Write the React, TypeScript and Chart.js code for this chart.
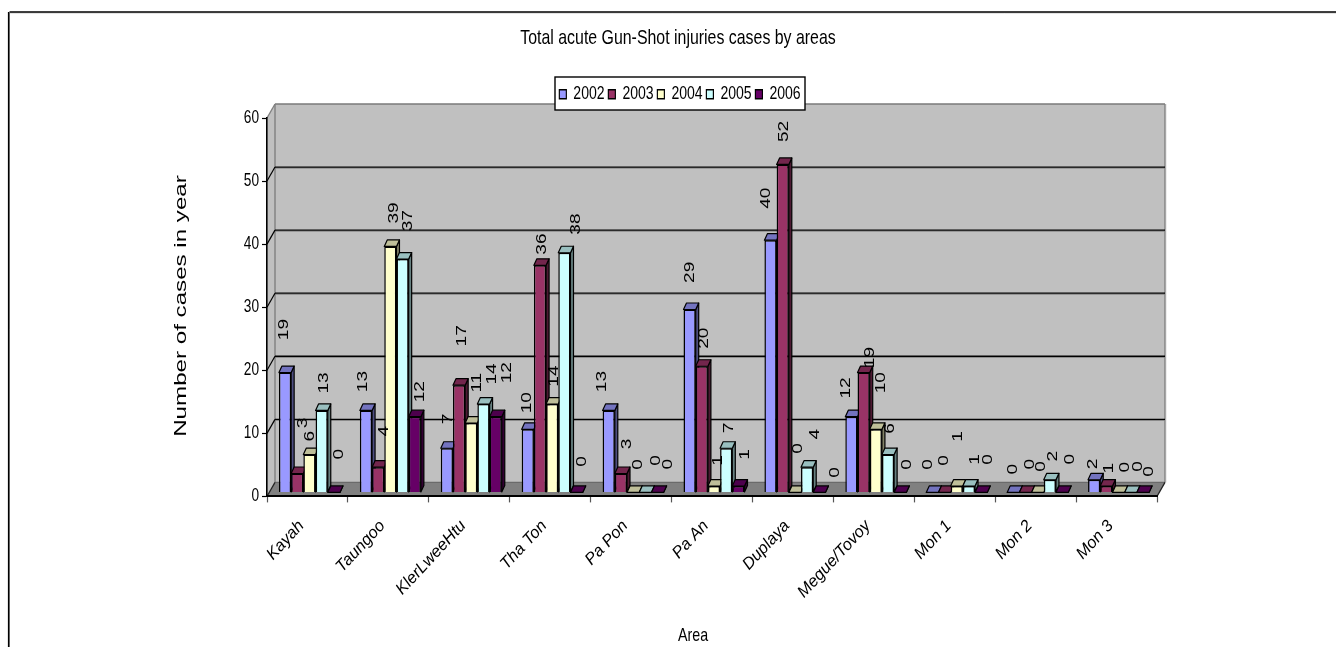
import React, { useEffect, useRef } from "react";
import { Chart, registerables } from "chart.js";

Chart.register(...registerables);

const areas = ["Kayah", "Taungoo", "KlerLweeHtu", "Tha Ton", "Pa Pon", "Pa An", "Duplaya", "Megue/Tovoy", "Mon 1", "Mon 2", "Mon 3"];
const cases2002 = [19, 13, 7, 10, 13, 29, 40, 12, 0, 0, 2];
const cases2003 = [3, 4, 17, 36, 3, 20, 52, 19, 0, 0, 1];
const cases2004 = [6, 39, 11, 14, 0, 1, 0, 10, 1, 0, 0];
const cases2005 = [13, 37, 14, 38, 0, 7, 4, 6, 1, 2, 0];
const cases2006 = [0, 12, 12, 0, 0, 1, 0, 0, 0, 0, 0];
const years = ["2002", "2003", "2004", "2005", "2006"];
const series = [cases2002, cases2003, cases2004, cases2005, cases2006];
const colours = ["#9999FF", "#993366", "#FFFFCC", "#CCFFFF", "#660066"];
const yTicks = { min: 0, max: 60, step: 10 };

// Hand placement of the rotated value labels, per year then per area.
const labelDx = [
  [-1.4, -3.6, 0.8, -1.1, -7.3, 0, -4.8, -5.7, -4.9, -0.8, -1.4],
  [5, 5.2, 2.6, 1.7, 5.8, 2, 1, 6, -0.8, 4.3, 2.4],
  [0.2, 3, 5, 1.5, 4.6, 3.4, 2.8, 4.9, 1, 3.1, 6.2],
  [2, 5, 7.9, 11.3, 10.4, 2.5, 7.6, 1.7, 5.8, 2.9, 6.7],
  [4.8, 4.9, 11, 4.8, 10.2, 6.3, 15.4, 6.5, 6.6, 7.7, 5.8],
];
const labelDy = [
  [-43, -28.8, -29.4, -26.6, -28.8, -37.2, -42, -28.8, -28, -23.3, -15.8],
  [-50.5, -35.9, -49.4, -21.3, -29.5, -28, -33, -15, -32, -28.3, -18],
  [-18.4, -33.5, -40.3, -28, -28, -25.7, -44, -46.6, -49.7, -26, -25.3],
  [-27.5, -38.3, -30.2, -28.7, -32, -20.4, -33, -26, -26.7, -23.5, -26],
  [-38.3, -25, -44, -31, -28.3, -31.7, -20, -28, -33, -33.3, -21],
];

const PLOT = { left: 267, right: 1157, top: 118, bottom: 495 };
const WALL_SHIFT = { x: 8, y: -14 };
const BAR_SHIFT = { x: 2, y: -4 };
const BAR_DEPTH = { x: 3, y: -6.5 };
const SANS = '"Liberation Sans", Arial, sans-serif';

function shade(hex: string, k: number) {
  const n = parseInt(hex.slice(1), 16);
  const c = [(n >> 16) & 255, (n >> 8) & 255, n & 255].map((v) => Math.round(v * k));
  return `rgb(${c[0]},${c[1]},${c[2]})`;
}

function poly(ctx: CanvasRenderingContext2D, pts: number[][], fill: string, stroke?: string, width = 1) {
  ctx.beginPath();
  pts.forEach((p, i) => (i ? ctx.lineTo(p[0], p[1]) : ctx.moveTo(p[0], p[1])));
  ctx.closePath();
  ctx.fillStyle = fill;
  ctx.fill();
  if (stroke) {
    ctx.strokeStyle = stroke;
    ctx.lineWidth = width;
    ctx.lineJoin = "round";
    ctx.stroke();
  }
}

function line(ctx: CanvasRenderingContext2D, x1: number, y1: number, x2: number, y2: number, colour: string, width: number) {
  ctx.beginPath();
  ctx.moveTo(x1, y1);
  ctx.lineTo(x2, y2);
  ctx.strokeStyle = colour;
  ctx.lineWidth = width;
  ctx.stroke();
}

// Squeezes whatever a chart element draws horizontally about a fixed x.
function condense(chart: any, target: any, method: string, anchor: number, k: number) {
  if (target.__condensed) return;
  target.__condensed = true;
  const original = target[method];
  target[method] = function (...args: any[]) {
    const { ctx } = chart;
    ctx.save();
    ctx.translate(anchor, 0);
    ctx.scale(k, 1);
    ctx.translate(-anchor, 0);
    original.apply(target, args);
    ctx.restore();
  };
}

// Outer frame, back wall, side wall, floor, wall grid lines and the legend panel.
const backdrop = {
  id: "backdrop",
  afterLayout(chart: any) {
    chart.titleBlock.left = 20;
    chart.titleBlock.right = 1336;
    chart.legend.left = 490;
    chart.legend.right = 870;
    chart.legend.top = 80.4;
    chart.legend.bottom = 112;
    condense(chart, chart.titleBlock, "draw", 678, 0.757);
    condense(chart, chart.legend, "draw", 680, 0.78);
    condense(chart, chart.scales.y, "drawLabels", 259, 0.76);
  },
  beforeDraw(chart: any) {
    const { ctx, chartArea: a, scales } = chart;
    const y = scales.y;
    const wx = WALL_SHIFT.x;
    const wy = WALL_SHIFT.y;
    ctx.save();
    line(ctx, 9.5, 13, 1336, 13, "#C8C8C8", 1);
    line(ctx, 9.5, 12, 1336, 12, "#000", 1.6);
    line(ctx, 9.5, 12, 9.5, 647, "#C8C8C8", 1);
    line(ctx, 8.7, 12, 8.7, 647, "#000", 1.6);

    const top = y.getPixelForValue(yTicks.max);
    const zero = y.getPixelForValue(0);
    poly(ctx, [[a.left, top], [a.left + wx, top + wy], [a.left + wx, zero + wy], [a.left, zero]], "#C0C0C0");
    poly(ctx, [[a.left + wx, top + wy], [a.right + wx, top + wy], [a.right + wx, zero + wy], [a.left + wx, zero + wy]], "#C0C0C0");
    poly(ctx, [[a.left, zero], [a.right, zero], [a.right + wx, zero + wy], [a.left + wx, zero + wy]], "#808080");
    line(ctx, a.right + wx + 1.5, top + wy, a.right + wx + 1.5, zero + wy, "#EDEDED", 1);
    line(ctx, a.left + wx, top + wy, a.right + wx, top + wy, "#7A7A7A", 1.6);
    line(ctx, a.left + wx, top + wy, a.left + wx, zero + wy, "#808080", 1.4);
    line(ctx, a.right + wx, top + wy, a.right + wx, zero + wy, "#808080", 1.4);
    line(ctx, a.left, top, a.left + wx, top + wy, "#808080", 1.4);
    line(ctx, a.left + wx, zero + wy, a.right + wx, zero + wy, "#6A6A6A", 1.4);
    line(ctx, a.right, zero, a.right + wx, zero + wy, "#222", 1.2);

    for (let v = yTicks.min + yTicks.step; v < yTicks.max; v += yTicks.step) {
      const p = y.getPixelForValue(v);
      line(ctx, a.left + wx, p + wy + 1, a.right + wx, p + wy + 1, "#808080", 1);
      line(ctx, a.left + wx, p + wy, a.right + wx, p + wy, "#000", 1.3);
      line(ctx, a.left, p, a.left + wx, p + wy, "#000", 1.2);
    }
    line(ctx, a.left, zero, a.left + wx, zero + wy, "#222", 1.2);

    ctx.fillStyle = "#fff";
    ctx.fillRect(555, 77, 250, 33);
    ctx.strokeStyle = "#000";
    ctx.lineWidth = 1.4;
    ctx.strokeRect(555, 77, 250, 33);
    ctx.restore();
  },
};

// Adds the side and top faces behind each bar; the library then paints the front faces.
const barDepth = {
  id: "barDepth",
  beforeDatasetsDraw(chart: any) {
    const { ctx } = chart;
    ctx.save();
    ctx.translate(BAR_SHIFT.x, BAR_SHIFT.y);
    const dx = BAR_DEPTH.x;
    const dy = BAR_DEPTH.y;
    series.forEach((_, d) => {
      const colour = colours[d];
      chart.getDatasetMeta(d).data.forEach((bar: any) => {
        const l = bar.x - bar.width / 2;
        const r = bar.x + bar.width / 2;
        const t = bar.y;
        const b = bar.base;
        poly(ctx, [[r, t], [r + dx, t + dy], [r + dx, b + dy], [r, b]], shade(colour, 0.5), "#000", 1.2);
        poly(ctx, [[l, t], [l + dx, t + dy], [r + dx, t + dy], [r, t]], shade(colour, 0.75), "#000", 1.2);
      });
    });
  },
  afterDatasetsDraw(chart: any) {
    chart.ctx.restore();
  },
};

// Stretched text for the rotated value labels and axis captions.
const annotations = {
  id: "annotations",
  afterDraw(chart: any) {
    const { ctx } = chart;
    ctx.save();
    ctx.fillStyle = "#000";
    ctx.textAlign = "center";
    ctx.textBaseline = "middle";
    series.forEach((values, d) => {
      chart.getDatasetMeta(d).data.forEach((bar: any, i: number) => {
        ctx.save();
        ctx.translate(bar.x + BAR_SHIFT.x + labelDx[d][i], bar.y + BAR_SHIFT.y + labelDy[d][i]);
        ctx.rotate(-Math.PI / 2);
        ctx.scale(1.23, 1);
        ctx.font = `15.5px ${SANS}`;
        ctx.fillText(String(values[i]), 0, 0);
        ctx.restore();
      });
    });
    ctx.save();
    ctx.translate(181.5, 306);
    ctx.rotate(-Math.PI / 2);
    ctx.scale(1.42, 1);
    ctx.font = `17px ${SANS}`;
    ctx.fillText("Number of cases in year", 0, 0);
    ctx.restore();
    ctx.save();
    ctx.translate(693, 636);
    ctx.scale(0.75, 1);
    ctx.font = `19px ${SANS}`;
    ctx.fillText("Area", 0, 0);
    ctx.restore();
    ctx.restore();
  },
};

export default function App() {
  const ref = useRef<HTMLCanvasElement>(null);

  useEffect(() => {
    const chart = new Chart(ref.current as HTMLCanvasElement, {
      type: "bar",
      data: {
        labels: areas,
        datasets: years.map((year, d) => ({
          label: year,
          data: series[d],
          backgroundColor: colours[d],
          borderColor: "#000",
          borderWidth: 1.5,
          categoryPercentage: 0.754,
          barPercentage: 1,
        })),
      },
      plugins: [backdrop, barDepth, annotations],
      options: {
        responsive: false,
        animation: false,
        layout: { padding: { left: 0, top: 0, bottom: 0, right: 1336 - PLOT.right } },
        plugins: {
          tooltip: { enabled: false },
          title: {
            display: true,
            text: "Total acute Gun-Shot injuries cases by areas",
            color: "#000",
            font: { family: SANS, size: 21, weight: "normal" },
            padding: { top: 26, bottom: 34 },
          },
          legend: {
            display: true,
            position: "top",
            labels: {
              color: "#000",
              font: { family: SANS, size: 18 },
              boxWidth: 9,
              boxHeight: 9,
              padding: 4.8,
            },
          },
        },
        scales: {
          x: {
            offset: true,
            afterFit: (s: any) => {
              s.height = 150.6;
            },
            grid: { drawOnChartArea: false, offset: true, tickLength: 6, tickColor: "#555", tickWidth: 1.2 },
            border: { color: "#000", width: 2 },
            ticks: {
              color: "#000",
              autoSkip: false,
              minRotation: 47,
              maxRotation: 47,
              padding: 14,
              labelOffset: -6,
              font: { family: SANS, size: 16.5, style: "italic" },
            },
          },
          y: {
            min: yTicks.min,
            max: yTicks.max,
            afterFit: (s: any) => {
              s.width = PLOT.left;
            },
            grid: { drawOnChartArea: false, tickLength: 5, tickColor: "#000", tickWidth: 1.2 },
            border: { color: "#000", width: 1.6 },
            ticks: {
              stepSize: yTicks.step,
              color: "#000",
              padding: 3,
              font: { family: SANS, size: 18 },
            },
          },
        },
      } as any,
    });
    return () => chart.destroy();
  }, []);

  return (
    <div style={{ position: "fixed", left: 0, top: 0, width: 1336, height: 647, background: "#fff" }}>
      <canvas ref={ref} width={1336} height={647} style={{ display: "block" }} />
    </div>
  );
}
